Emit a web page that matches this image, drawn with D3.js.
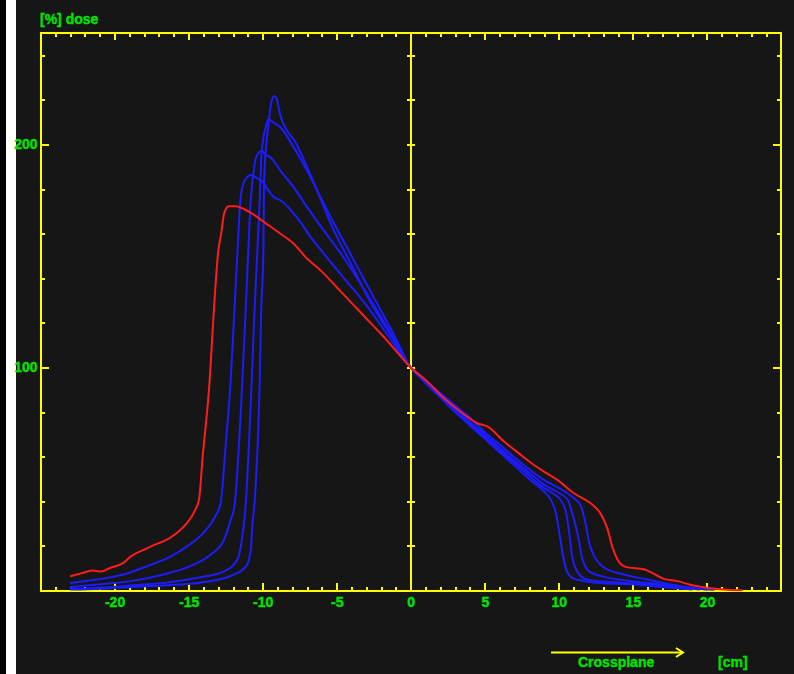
<!DOCTYPE html>
<html>
<head>
<meta charset="utf-8">
<script src="https://cdn.jsdelivr.net/npm/d3@7"></script>
<style>
  html, body { margin: 0; padding: 0; background: #161616; }
  svg { display: block; }
  text { font-family: "Liberation Sans", Arial, sans-serif; font-weight: bold; }
</style>
</head>
<body>
<svg id="chart" width="794" height="674"></svg>
<script>
// Dose profiles (crossplane position in cm, relative dose in %)
const profileRed = [
  [-23.0,6.4],[-22.2,7.8],[-21.5,9.0],[-20.9,8.5],[-20.3,10.1],[-19.4,12.4],[-18.9,15.3],[-18.0,18.3],
  [-17.1,21.0],[-16.7,22.0],[-15.8,25.8],[-15.1,30.3],[-14.6,35.5],[-14.3,40.7],[-14.05,60],[-13.58,94],
  [-13.3,125],[-13.0,152],[-12.8,160],[-12.6,169],[-12.3,172.3],[-11.8,172.3],[-11.3,171.2],[-10.7,169],
  [-9.9,165.2],[-8.8,160],[-7.9,155.5],[-7.1,149.5],[-6,143],[-5,136],[-4,129],[-3,122],[-2,115],
  [-1,107.5],[0,100],[1.0,94.4],[2.25,86.2],[3.5,79.5],[4.5,75],[5.2,73.5],[6.3,66.8],[7.3,61.5],
  [8.3,56.4],[9.2,52.5],[9.9,49.6],[11.0,43.7],[12.4,37.7],[12.8,34.7],[13.3,27.3],[13.6,19.8],
  [13.96,13.9],[14.5,10.6],[15.8,9.4],[16.2,8.2],[17.1,5.2],[18.0,4.2],[19.1,2.2],[20.0,1.2],
  [21.4,0.3],[22.4,0.1]
];
const profileBlue1 = [
  [-23.0,3.4],[-21.2,4.9],[-19.4,7.2],[-17.8,10.9],[-16.2,15.3],[-15.1,19.8],[-14.0,25.8],[-13.2,33.2],
  [-12.84,39],[-12.5,65],[-12.16,94],[-11.95,120],[-11.7,152],[-11.5,175],[-11.4,180],[-11.1,185],
  [-10.8,186.3],[-10.4,185],[-10.1,183.8],[-9.24,176.4],[-8.8,175],[-7.7,167.4],[-6.76,158.5],
  [-5.86,151],[-4.5,140],[-3,128],[-1.5,114],[0,100],[1,94],[2,88.5],[3,83],[4,77.5],[5,71],[6,65.5],
  [7.2,58.6],[8.8,50.4],[10.4,44.4],[11.0,41.5],[11.5,37.7],[11.8,30.3],[12.05,21.3],[12.4,15.3],
  [13.1,10.1],[14.4,7.2],[16.0,4.9],[17.6,2.7],[18.9,1.2],[20.0,0.5]
];
const profileBlue2 = [
  [-23.0,1.6],[-21.0,2.8],[-18.9,4.2],[-16.7,7.2],[-14.9,10.9],[-13.5,16.1],[-12.6,22.8],[-12.15,31.8],
  [-11.9,38],[-11.37,94],[-11.15,125],[-10.97,152],[-10.85,170],[-10.7,183],[-10.6,188],[-10.5,192.8],
  [-10.3,196],[-10.05,197.2],[-9.8,195.5],[-9.46,194.2],[-8.8,188.3],[-7.9,180.8],[-7.0,171.9],
  [-5.86,161.4],[-4.5,149],[-3,133.5],[-1.5,117],[0,100],[1,93.6],[2,87.5],[3,81.5],[4,75.6],[5,70],
  [6,64],[7,58.3],[8,52.8],[9,47.5],[9.8,44.5],[10.6,40.7],[10.9,34.7],[11.3,24.3],[11.6,13.9],
  [12.05,8.6],[13.1,6.1],[14.9,4.2],[16.5,3.0],[18.0,1.8],[19.5,0.8],[20.5,0.3]
];
const profileBlue3 = [
  [-23.0,0.8],[-20.0,1.6],[-18.5,2.5],[-16.7,3.4],[-14.4,5.7],[-12.6,8.6],[-11.7,13.9],[-11.4,22.8],
  [-11.15,38],[-10.74,94],[-10.55,125],[-10.36,152],[-10.2,175],[-10.1,192.8],[-9.95,203],[-9.8,207.6],
  [-9.6,211.4],[-9.3,210],[-8.8,207.7],[-7.9,198.7],[-7.0,188.3],[-6.1,176.4],[-5.4,167.4],[-4,150],
  [-2.5,131.5],[-1.2,115.5],[0,100],[1,93.3],[2,87],[3,80.7],[4,74.8],[5,69],[6,63],[7,57.3],[8,51.5],
  [9,46],[9.6,43.5],[10.1,40.7],[10.5,34.7],[10.7,25.8],[10.9,15.3],[11.3,7.9],[11.9,4.9],[13,4.0],
  [15,3.2],[17,2.0],[18.5,1.0],[19.5,0.5]
];
const profileBlue4 = [
  [-23.0,0.4],[-21.0,0.8],[-18.9,1.6],[-16.5,2.4],[-14.4,3.4],[-12.2,6.4],[-11.1,10.9],[-10.8,18.3],
  [-10.7,28.8],[-10.55,39],[-10.2,94],[-10.1,125],[-9.95,152],[-9.9,184],[-9.75,200],[-9.62,208],
  [-9.46,217],[-9.35,220.5],[-9.2,221.8],[-9.05,220.5],[-8.8,213],[-7.7,200],[-6.8,186.8],[-5.86,171.9],
  [-5.4,164.5],[-4,146],[-2.7,129],[-1.3,114],[0,100],[1,93],[2,86.5],[3,80],[4,74],[5,68],[6,62],
  [7,56],[8,50],[9,44.4],[9.46,40.7],[9.8,34.7],[10.0,27.3],[10.25,16.8],[10.5,9.4],[10.9,5.7],
  [11.7,4.2],[13,3.2],[15,2.8],[16.5,1.8],[18,1.0],[19,0.5]
];

// Axis ranges and tick values
const xDomain = [-25, 25];
const yDomain = [0, 250];
const xMinorTicks = d3.range(-24, 25, 1);
const xMajorTicks = [-20, -15, -10, -5, 0, 5, 10, 15, 20];
const yMinorTicks = d3.range(20, 250, 20);
const yMajorTicks = [100, 200];

const YELLOW = "#ffff00";
const GREEN = "#00e400";
const BLUE = "#1c1cff";
const RED = "#ff1c1c";

const svg = d3.select("#chart");

// panel background and left-edge strips
svg.append("rect").attr("x", 0).attr("y", 0).attr("width", 794).attr("height", 674).attr("fill", "#161616");
svg.append("rect").attr("x", 0).attr("y", 0).attr("width", 6).attr("height", 674).attr("fill", "#000");
svg.append("rect").attr("x", 6).attr("y", 0).attr("width", 10).attr("height", 674).attr("fill", "#fff");

const x = d3.scaleLinear().domain(xDomain).range([40.5, 781]);
const y = d3.scaleLinear().domain(yDomain).range([590.5, 33]);

function styleAxis(g) {
  g.select(".domain").remove();
  g.selectAll(".tick line").attr("stroke", YELLOW).attr("stroke-width", 2);
  g.selectAll(".tick text")
    .attr("fill", GREEN).attr("stroke", GREEN).attr("stroke-width", 0.35)
    .attr("font-size", 14).attr("font-family", "Liberation Sans, Arial, sans-serif").attr("font-weight", "bold");
}

const axes = svg.append("g").attr("shape-rendering", "crispEdges");

// bottom axis: minor and major ticks pointing inward, labels below
axes.append("g").attr("transform", `translate(0,${y(0)})`)
  .call(d3.axisBottom(x).tickValues(xMinorTicks).tickSize(-4).tickFormat(""))
  .call(styleAxis);
axes.append("g").attr("transform", `translate(0,${y(0)})`)
  .call(d3.axisBottom(x).tickValues(xMajorTicks).tickSize(-8).tickPadding(6.5).tickFormat(d => String(d)))
  .call(styleAxis);

// top axis: ticks pointing down
axes.append("g").attr("transform", `translate(0,${y(250)})`)
  .call(d3.axisTop(x).tickValues(xMinorTicks).tickSize(-4).tickFormat(""))
  .call(styleAxis);
axes.append("g").attr("transform", `translate(0,${y(250)})`)
  .call(d3.axisTop(x).tickValues(xMajorTicks).tickSize(-7).tickFormat(""))
  .call(styleAxis);

// left axis: inward ticks, labels at 100 and 200
axes.append("g").attr("transform", `translate(${x(-25)},0)`)
  .call(d3.axisLeft(y).tickValues(yMinorTicks).tickSize(-4).tickFormat(""))
  .call(styleAxis);
axes.append("g").attr("transform", `translate(${x(-25)},0)`)
  .call(d3.axisLeft(y).tickValues(yMajorTicks).tickSize(-8).tickPadding(3).tickFormat(d => String(d)))
  .call(styleAxis);

// right axis: inward ticks
axes.append("g").attr("transform", `translate(${x(25)},0)`)
  .call(d3.axisRight(y).tickValues(yMinorTicks).tickSize(-4).tickFormat(""))
  .call(styleAxis);
axes.append("g").attr("transform", `translate(${x(25)},0)`)
  .call(d3.axisRight(y).tickValues(yMajorTicks).tickSize(-8).tickFormat(""))
  .call(styleAxis);

// central axis at x = 0 with ticks on both sides
[d3.axisLeft, d3.axisRight].forEach(ax => {
  axes.append("g").attr("transform", `translate(${x(0)},0)`)
    .call(ax(y).tickValues(yMinorTicks).tickSize(4).tickFormat(""))
    .call(styleAxis);
});
axes.append("line")
  .attr("x1", x(0)).attr("x2", x(0)).attr("y1", y(250)).attr("y2", y(0))
  .attr("stroke", YELLOW).attr("stroke-width", 2);

// frame
axes.append("rect")
  .attr("x", x(-25)).attr("y", y(250))
  .attr("width", x(25) - x(-25)).attr("height", y(0) - y(250))
  .attr("fill", "none").attr("stroke", YELLOW).attr("stroke-width", 2);

// profile curves
const line = d3.line().x(d => x(d[0])).y(d => y(d[1])).curve(d3.curveMonotoneX);
const curves = svg.append("g").attr("fill", "none").attr("stroke-width", 2).attr("stroke-linejoin", "round");
[profileBlue1, profileBlue2, profileBlue3, profileBlue4].forEach(p => {
  curves.append("path").datum(p).attr("d", line).attr("stroke", BLUE);
});
curves.append("path").datum(profileRed).attr("d", line).attr("stroke", RED);

// header label
const labelStyle = sel => sel.attr("fill", GREEN).attr("stroke", GREEN).attr("stroke-width", 0.35).attr("font-size", 14);
svg.append("text").attr("x", 40).attr("y", 24).call(labelStyle).text("[%] dose");

// crossplane direction arrow and unit
const arrow = svg.append("g").attr("stroke", YELLOW).attr("stroke-width", 2).attr("fill", "none");
arrow.append("line").attr("x1", 551).attr("x2", 683).attr("y1", 652.5).attr("y2", 652.5);
arrow.append("path").attr("d", "M676,648 L683,652.5 L676,657");

svg.append("text").attr("x", 578).attr("y", 667).call(labelStyle).text("Crossplane");
svg.append("text").attr("x", 718).attr("y", 667).call(labelStyle).text("[cm]");
</script>
</body>
</html>
